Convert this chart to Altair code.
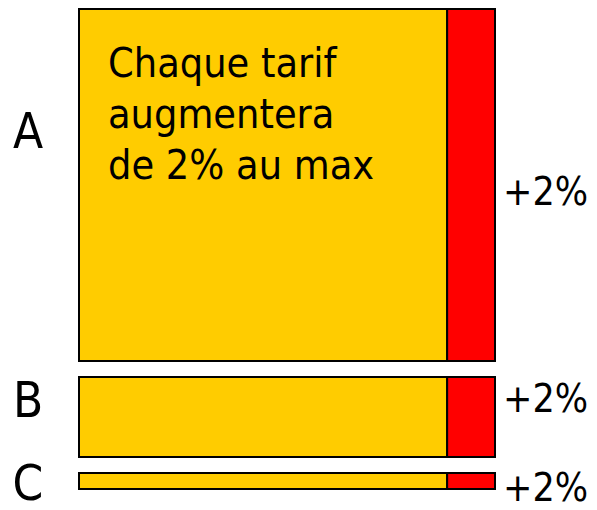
import altair as alt
import pandas as pd

# ---- data ----
categories = ["A", "B", "C"]
row_sizes = [22, 5, 1]            # relative size of each tariff block
base_values = [100, 100, 100]     # current tariff (yellow)
increase_values = [13, 13, 13]    # maximum increase (red)
increase_labels = ["+2%", "+2%", "+2%"]
note_lines = ["Chaque tarif", "augmentera", "de 2% au max"]

# ---- layout / style ----
GAP = 1
FONT = "DejaVu Sans Condensed"
YELLOW = "#FFCC00"
RED = "#FF0000"
CAT_DY = {"A": -37, "B": 0, "C": 19}
PCT_DY = {"A": 20, "B": -5, "C": 20}

rows = pd.DataFrame({
    "cat": categories,
    "size": row_sizes,
    "base": base_values,
    "inc": increase_values,
    "label": increase_labels,
})
rows["y0"] = rows["size"].cumsum() - rows["size"] + rows.index * GAP
rows["y1"] = rows["y0"] + rows["size"]
rows["mid"] = (rows["y0"] + rows["y1"]) / 2
rows["x0"] = 0
rows["total"] = rows["base"] + rows["inc"]

note_df = pd.DataFrame({"x0": [0], "y0": [rows.loc[0, "y0"]], "note": ["\n".join(note_lines)]})

xs = alt.Scale(domain=[0, float(rows["total"].max())], nice=False, zero=False)
ys = alt.Scale(domain=[0, float(rows["y1"].max())], nice=False, zero=False, reverse=True)

base = alt.Chart(rows)

yellow = base.mark_rect(fill=YELLOW, stroke="black", strokeWidth=2).encode(
    x=alt.X("x0:Q", scale=xs, axis=None),
    x2="base:Q",
    y=alt.Y("y0:Q", scale=ys, axis=None),
    y2="y1:Q",
)
red = base.mark_rect(fill=RED, stroke="black", strokeWidth=2).encode(
    x=alt.X("base:Q", scale=xs, axis=None),
    x2="total:Q",
    y=alt.Y("y0:Q", scale=ys, axis=None),
    y2="y1:Q",
)

layers = [yellow, red]
for c in categories:
    layers.append(
        base.transform_filter(alt.datum.cat == c).mark_text(
            font=FONT, fontSize=49, align="center", baseline="alphabetic",
            dx=-51, dy=CAT_DY[c], color="black",
        ).encode(
            x=alt.X("x0:Q", scale=xs, axis=None),
            y=alt.Y("mid:Q", scale=ys, axis=None),
            text="cat:N",
        )
    )
    layers.append(
        base.transform_filter(alt.datum.cat == c).mark_text(
            font=FONT, fontSize=39, align="left", baseline="alphabetic",
            dx=8, dy=PCT_DY[c], color="black",
        ).encode(
            x=alt.X("total:Q", scale=xs, axis=None),
            y=alt.Y("mid:Q", scale=ys, axis=None),
            text="label:N",
        )
    )

note = alt.Chart(note_df).mark_text(
    font=FONT, fontSize=41, align="left", baseline="alphabetic",
    dx=29, dy=68, lineHeight=51, lineBreak="\n", color="black",
).encode(
    x=alt.X("x0:Q", scale=xs, axis=None),
    y=alt.Y("y0:Q", scale=ys, axis=None),
    text="note:N",
)
layers.append(note)

chart = alt.layer(*layers).properties(
    width=416,
    height=480,
    autosize=alt.AutoSizeParams(type="none"),
    padding={"left": 71, "top": 1, "right": 94, "bottom": 13},
).configure_view(stroke=None)

chart.save("out.html", embed_options={"renderer": "svg", "actions": False})
